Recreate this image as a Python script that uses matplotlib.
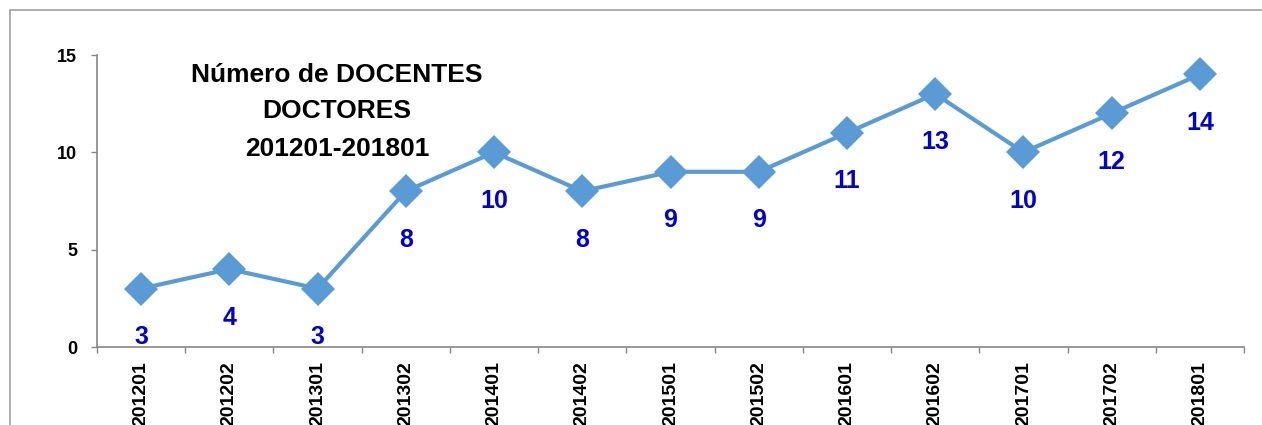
import matplotlib.pyplot as plt
from matplotlib.patches import Rectangle

plt.rcParams['font.family'] = ['Liberation Sans', 'DejaVu Sans']

periodos = ['201201', '201202', '201301', '201302', '201401', '201402', '201501',
            '201502', '201601', '201602', '201701', '201702', '201801']
docentes = [3, 4, 3, 8, 10, 8, 9, 9, 11, 13, 10, 12, 14]
titulo = ['Número de DOCENTES', 'DOCTORES', '201201-201801']

W, H = 1262, 425
fig = plt.figure(figsize=(W / 100, H / 100), dpi=100)

# marco exterior del gráfico
fig.patches.append(Rectangle((10 / W, -0.1), 1.1, 1.1 - 10 / H, transform=fig.transFigure,
                             fill=False, edgecolor='#A0A0A0', linewidth=1.2))

ax = fig.add_axes([97 / W, 1 - 347 / H, (1244 - 97) / W, (347 - 55) / H])
x = list(range(len(periodos)))
ax.plot(x, docentes, color='#5B9BD5', linewidth=3, marker='D', markersize=17.5,
        markeredgewidth=0, clip_on=False)

for xi, v in zip(x, docentes):
    ax.annotate(str(v), (xi, v), xytext=(0, -40), textcoords='offset points',
                ha='center', va='baseline', fontsize=18, fontweight='bold', color='#0000CC')

ax.set_xlim(-0.5, len(periodos) - 0.5)
ax.set_ylim(0, 15)
ax.set_yticks([0, 5, 10, 15])
ax.set_xticks(x)
ax.set_xticklabels(periodos, rotation=90, fontsize=14, fontweight='bold')
ax.set_xticks([i - 0.5 for i in range(len(periodos) + 1)], minor=True)
ax.tick_params(axis='x', which='major', length=0, pad=10)
ax.tick_params(axis='x', which='minor', length=4.3, color='#868686', width=1)
ax.tick_params(axis='y', length=4.3, color='#868686', width=1, pad=10, labelsize=13)
for lab in ax.get_yticklabels():
    lab.set_fontweight('bold')

for s in ['top', 'right']:
    ax.spines[s].set_visible(False)
for s in ['left', 'bottom']:
    ax.spines[s].set_color('#868686')
    ax.spines[s].set_linewidth(1.2)

for linea, base in zip(titulo, [82, 118, 156]):
    fig.text(337 / W, 1 - base / H, linea, ha='center', va='baseline',
             fontsize=19, fontweight='bold', color='black')

fig.savefig('out.png', dpi=100)
